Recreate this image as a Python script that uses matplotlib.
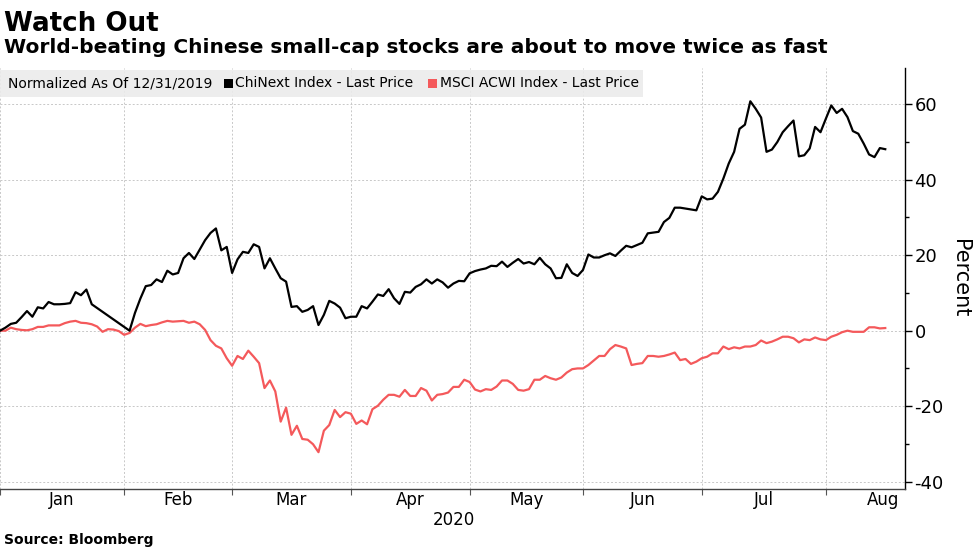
import matplotlib
matplotlib.use("Agg")
import matplotlib.pyplot as plt
from matplotlib.patches import Rectangle
from matplotlib.ticker import MultipleLocator
import numpy as np
import pandas as pd

plt.rcParams["axes.unicode_minus"] = False

# one value per weekday starting 2019-12-31, None = market closed
chinext = [
    0.0, 0.8, 1.8, 2.1, 3.6, 5.2, 3.7, 6.2, 5.9, 7.6,
    7.0, 7.0, 7.1, 7.3, 10.2, 9.4, 10.9, 7.0, None, None,
    None, None, None, None, 0.0, 4.7, 8.5, 11.8, 12.1, 13.6,
    12.9, 15.9, 14.9, 15.3, 19.2, 20.6, 19.0, 21.5, 24.0, 25.9,
    27.1, 21.3, 22.2, 15.3, 18.9, 20.9, 20.6, 22.9, 22.2, 16.5,
    19.2, 16.5, 13.9, 13.0, 6.3, 6.5, 5.0, 5.5, 6.5, 1.5,
    4.2, 7.9, 7.2, 6.1, 3.3, 3.7, 3.7, 6.5, 5.9, 7.7,
    9.6, 9.2, 11.0, 8.6, 7.1, 10.3, 10.1, 11.6, 12.3, 13.6,
    12.5, 13.6, 12.8, 11.4, 12.5, 13.2, 13.1, 15.2, 15.8, 16.2,
    16.5, 17.2, 17.1, 18.3, 16.9, 18.0, 19.0, 17.8, 18.2, 17.6,
    19.3, 17.6, 16.5, 13.9, 14.0, 17.6, 15.3, 14.5, 16.1, 20.2,
    19.4, 19.4, 20.0, 20.5, 19.8, 21.2, 22.5, 22.1, 22.7, 23.3,
    25.8, 26.0, 26.2, 28.8, 29.9, 32.6, 32.6, None, None, 31.9,
    35.6, 34.8, 35.0, 36.8, 40.3, 44.3, 47.4, 53.5, 54.6, 60.8,
    58.8, 56.5, 47.4, 48.0, 50.0, 52.6, 54.2, 55.7, 46.2, 46.5,
    48.3, 54.0, 52.6, 56.2, 59.7, 57.7, 58.8, 56.6, 52.9, 52.2,
    49.6, 46.7, 46.0, 48.4, 48.1,
]
msci = [
    0.0, 0.0, 0.8, 0.4, 0.2, 0.1, 0.4, 1.0, 1.0, 1.4,
    1.4, 1.4, 2.0, 2.4, 2.6, 2.1, 2.0, 1.7, 1.1, -0.3,
    0.4, 0.3, -0.1, -1.1, -0.6, 0.8, 1.8, 1.2, 1.5, 1.7,
    2.2, 2.6, 2.4, 2.5, 2.6, 2.1, 2.4, 1.7, 0.2, -2.5,
    -4.0, -4.7, -7.3, -9.3, -6.7, -7.5, -5.3, -6.9, -8.6, -15.2,
    -13.2, -16.1, -24.1, -20.4, -27.6, -25.2, -28.7, -28.9, -30.1, -32.2,
    -26.5, -25.0, -21.0, -22.9, -21.6, -22.0, -24.7, -23.8, -24.8, -20.8,
    -19.9, -18.3, -17.0, -17.0, -17.5, -15.7, -17.3, -17.3, -15.2, -15.9,
    -18.5, -17.0, -16.8, -16.4, -14.9, -14.9, -13.0, -13.6, -15.6, -16.1,
    -15.5, -15.7, -14.8, -13.2, -13.2, -14.1, -15.7, -15.9, -15.5, -13.0,
    -13.0, -12.0, -12.6, -13.0, -12.4, -11.1, -10.2, -10.0, -10.0, -9.1,
    -7.9, -6.7, -6.7, -4.9, -3.8, -4.2, -4.7, -9.1, -8.8, -8.6,
    -6.7, -6.7, -6.9, -6.7, -6.3, -5.8, -7.8, -7.5, -8.8, -8.2,
    -7.3, -6.9, -6.0, -6.0, -4.2, -4.9, -4.4, -4.7, -4.2, -4.2,
    -3.8, -2.6, -3.3, -2.9, -2.3, -1.6, -1.6, -2.0, -3.1, -2.3,
    -2.5, -1.8, -2.3, -2.5, -1.6, -1.1, -0.4, 0.0, -0.3, -0.3,
    -0.3, 0.9, 0.9, 0.6, 0.7,
]
months = ["Jan", "Feb", "Mar", "Apr", "May", "Jun", "Jul", "Aug"]
yticks = [-40, -20, 0, 20, 40, 60]

black = "#000000"
red = "#f4595b"

# weekday axis, like the Bloomberg terminal
days = pd.bdate_range("2019-12-31", "2020-08-31")
s_chi = pd.Series(chinext, index=np.arange(len(chinext)), dtype=float).dropna()
s_msci = pd.Series(msci, index=np.arange(len(msci)), dtype=float).dropna()

# month boundary = last weekday of the previous month
bounds = [0] + [int(np.where(days.month < m)[0][-1]) for m in range(2, 10)]
mids = [(bounds[i] + bounds[i + 1]) / 2 for i in range(len(months))]

fig = plt.figure(figsize=(9.77, 5.49), dpi=100)
ax = fig.add_axes([0.0, 0.109, 0.926, 0.767])

ax.plot(s_msci.index, s_msci.values, color=red, lw=1.6, zorder=3)
ax.plot(s_chi.index, s_chi.values, color=black, lw=1.6, zorder=4)

ax.set_xlim(0, 167.6)
ax.set_ylim(-42, 69.6)

ax.yaxis.tick_right()
ax.set_yticks(yticks)
ax.yaxis.set_minor_locator(MultipleLocator(10))
ax.tick_params(axis="y", which="major", length=5, width=1, labelsize=13, pad=2)
ax.tick_params(axis="y", which="minor", length=3, width=1)

ax.set_xticks(bounds[:-1])
ax.set_xticklabels([])
ax.set_xticks(mids, minor=True)
ax.set_xticklabels(months, minor=True, fontsize=12)
ax.tick_params(axis="x", which="major", length=4, width=0.8, color="#555555")
ax.tick_params(axis="x", which="minor", length=0, pad=1)

ax.grid(True, which="major", color="#c8c8c8", linestyle=(0, (2, 2)), linewidth=0.7)
ax.set_axisbelow(True)
for sp in ["left", "top"]:
    ax.spines[sp].set_visible(False)
ax.spines["right"].set_linewidth(1.0)
ax.spines["bottom"].set_color("#444444")
ax.spines["bottom"].set_linewidth(1.0)

ax.set_ylabel("Percent", rotation=-90, fontsize=15, labelpad=19)
ax.yaxis.set_label_position("right")

# titles
fig.text(0.004, 0.957, "Watch Out", fontsize=18.8, fontweight="bold", va="center")
fig.text(0.004, 0.913, "World-beating Chinese small-cap stocks are about to move twice as fast",
         fontsize=14.5, fontweight="bold", va="center")

# legend band
band = Rectangle((0.0, 0.824), 0.658, 0.049, transform=fig.transFigure,
                 facecolor="#ebebeb", edgecolor="none", alpha=0.9, zorder=5)
fig.add_artist(band)
ly = 0.848
fig.text(0.008, ly, "Normalized As Of 12/31/2019", fontsize=10, va="center", zorder=6)
fig.add_artist(Rectangle((0.229, ly - 0.009), 0.0095, 0.018, transform=fig.transFigure,
                         facecolor=black, edgecolor="none", zorder=6))
fig.text(0.241, ly, "ChiNext Index - Last Price", fontsize=10, va="center", zorder=6)
fig.add_artist(Rectangle((0.438, ly - 0.009), 0.0095, 0.018, transform=fig.transFigure,
                         facecolor=red, edgecolor="none", zorder=6))
fig.text(0.450, ly, "MSCI ACWI Index - Last Price", fontsize=10, va="center", zorder=6)

fig.text(0.465, 0.052, "2020", fontsize=12, ha="center", va="center")
fig.text(0.004, 0.016, "Source: Bloomberg", fontsize=10, fontweight="bold", va="center")

fig.savefig("out.png", dpi=100)
